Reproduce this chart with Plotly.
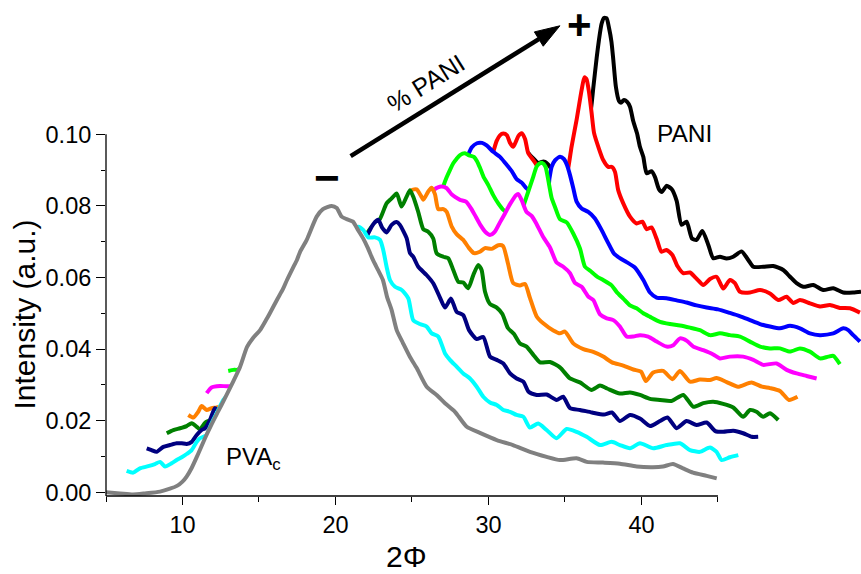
import plotly.graph_objects as go

# XRD patterns, 2-theta (deg) vs intensity (a.u.), stacked as a waterfall.
# Order: PVAc (front) -> increasing PANI content -> pure PANI (back).
gray_x = [5.0, 5.92, 6.76, 7.55, 8.53, 9.18, 9.64, 10.0, 10.27, 10.6, 11.0, 11.47, 11.9, 12.27, 12.8, 13.32, 13.76, 14.22, 14.61, 15.07, 15.46, 15.72, 16.18, 16.57, 16.83, 17.22, 17.48, 17.68, 18.12, 18.77, 19.18, 19.75, 20.08, 20.40, 20.73, 21.14, 21.47, 21.80, 22.12, 22.45, 22.78, 23.10, 23.37, 23.67, 24.00, 24.41, 24.87, 25.31, 25.96, 26.61, 27.16, 27.81, 28.58, 29.44, 30.54, 31.60, 32.71, 33.80, 34.67, 35.76, 36.42, 37.48, 38.59, 39.69, 40.75, 41.41, 42.06, 42.71, 43.37, 44.26, 44.92]
gray_y = [0.0, -0.0003, -0.0006, -0.0003, 0.0002, 0.0010, 0.0018, 0.0030, 0.0044, 0.0068, 0.0105, 0.0151, 0.0190, 0.0221, 0.0265, 0.0310, 0.0350, 0.0406, 0.0431, 0.0453, 0.0481, 0.0501, 0.0538, 0.0568, 0.0593, 0.0627, 0.0649, 0.0671, 0.0705, 0.0770, 0.0791, 0.0800, 0.0794, 0.0770, 0.0763, 0.0756, 0.0733, 0.0710, 0.0682, 0.0649, 0.0621, 0.0593, 0.0546, 0.0509, 0.0453, 0.0417, 0.0378, 0.0347, 0.0295, 0.0272, 0.0249, 0.0225, 0.0183, 0.0166, 0.0146, 0.0132, 0.0113, 0.0099, 0.0090, 0.0095, 0.0085, 0.0083, 0.0080, 0.0072, 0.0070, 0.0072, 0.0079, 0.0067, 0.0055, 0.0046, 0.0039]

cyan_x = [6.35, 6.78, 7.22, 7.76, 8.20, 8.53, 8.86, 9.29, 9.62, 9.95, 10.27, 10.60, 10.93, 11.14, 11.58, 11.80, 12.01, 12.34, 12.67, 13.10, 13.24, 14.5, 16.0, 17.5, 19.0, 20.5, 21.2, 21.49, 21.81, 22.14, 22.58, 22.91, 23.12, 23.34, 23.56, 23.89, 24.33, 24.76, 25.08, 25.52, 25.96, 26.29, 26.72, 27.16, 27.48, 27.92, 28.35, 28.79, 29.23, 29.66, 30.10, 30.54, 30.97, 31.41, 31.84, 32.28, 32.71, 33.25, 33.80, 34.45, 35.11, 35.76, 36.42, 37.29, 38.05, 38.59, 39.25, 39.90, 40.77, 41.64, 42.52, 43.17, 43.82, 44.48, 44.91, 45.24, 45.78, 46.33]
cyan_y = [0.0060, 0.0055, 0.0067, 0.0073, 0.0079, 0.0085, 0.0072, 0.0081, 0.0090, 0.0098, 0.0107, 0.0118, 0.0141, 0.0151, 0.0160, 0.0183, 0.0202, 0.0230, 0.0258, 0.0277, 0.0284, 0.036, 0.046, 0.056, 0.066, 0.072, 0.0735, 0.0742, 0.0733, 0.0712, 0.0712, 0.0705, 0.0677, 0.0630, 0.0593, 0.0574, 0.0565, 0.0542, 0.0481, 0.0470, 0.0463, 0.0444, 0.0435, 0.0388, 0.0370, 0.0351, 0.0332, 0.0318, 0.0295, 0.0267, 0.0251, 0.0244, 0.0230, 0.0225, 0.0216, 0.0211, 0.0181, 0.0192, 0.0174, 0.0151, 0.0177, 0.0169, 0.0155, 0.0132, 0.0141, 0.0132, 0.0123, 0.0137, 0.0123, 0.0132, 0.0137, 0.0118, 0.0113, 0.0125, 0.0113, 0.0090, 0.0098, 0.0104]

navy_x = [7.66, 7.98, 8.31, 8.75, 9.18, 9.62, 9.95, 10.27, 10.60, 10.93, 11.25, 11.47, 11.80, 12.12, 12.34, 13.0, 14.0, 16.0, 18.0, 20.0, 21.5, 21.9, 22.14, 22.47, 22.80, 23.04, 23.34, 23.67, 24.00, 24.21, 24.65, 24.87, 25.08, 25.41, 25.95, 26.39, 26.83, 27.16, 27.55, 27.92, 28.35, 28.73, 29.23, 29.66, 30.10, 30.54, 30.97, 31.41, 31.84, 32.28, 32.62, 33.15, 33.80, 34.45, 34.88, 35.33, 35.98, 36.76, 37.55, 38.07, 38.59, 39.25, 39.90, 40.56, 41.21, 41.70, 42.30, 42.95, 43.60, 44.26, 44.83, 45.34, 46.00, 46.65, 47.20, 47.63]
navy_y = [0.0123, 0.0118, 0.0113, 0.0127, 0.0132, 0.0137, 0.0137, 0.0135, 0.0141, 0.0160, 0.0174, 0.0179, 0.0202, 0.0235, 0.0230, 0.026, 0.032, 0.043, 0.054, 0.063, 0.068, 0.0700, 0.0723, 0.0749, 0.0761, 0.0740, 0.0726, 0.0747, 0.0755, 0.0747, 0.0710, 0.0668, 0.0658, 0.0630, 0.0607, 0.0584, 0.0544, 0.0516, 0.0541, 0.0504, 0.0495, 0.0453, 0.0428, 0.0434, 0.0379, 0.0370, 0.0360, 0.0332, 0.0318, 0.0309, 0.0281, 0.0272, 0.0273, 0.0258, 0.0267, 0.0235, 0.0230, 0.0223, 0.0217, 0.0223, 0.0199, 0.0216, 0.0206, 0.0185, 0.0199, 0.0209, 0.0179, 0.0199, 0.0188, 0.0195, 0.0171, 0.0169, 0.0172, 0.0165, 0.0155, 0.0155]

dgreen_x = [8.97, 9.40, 9.84, 10.27, 10.60, 10.93, 11.14, 11.47, 11.60, 12.3, 13.0, 13.5, 15.0, 17.0, 19.0, 21.0, 21.7, 22.03, 22.36, 22.90, 23.34, 23.67, 24.00, 24.32, 24.65, 24.87, 25.08, 25.41, 25.74, 26.06, 26.39, 26.61, 27.05, 27.37, 27.70, 28.03, 28.35, 28.68, 29.01, 29.33, 29.55, 29.77, 30.10, 30.54, 30.91, 31.27, 31.67, 32.06, 32.49, 32.93, 33.37, 34.02, 34.67, 35.33, 35.98, 36.73, 37.29, 37.75, 38.59, 39.25, 39.90, 40.56, 41.21, 41.97, 42.73, 43.39, 44.04, 44.69, 45.34, 46.00, 46.65, 47.09, 47.52, 47.96, 48.40, 48.94]
dgreen_y = [0.0165, 0.0174, 0.0179, 0.0185, 0.0193, 0.0183, 0.0176, 0.0194, 0.0198, 0.021, 0.024, 0.027, 0.037, 0.049, 0.058, 0.064, 0.067, 0.0719, 0.0742, 0.0763, 0.0807, 0.0821, 0.0835, 0.0798, 0.0826, 0.0844, 0.0826, 0.0783, 0.0735, 0.0728, 0.0709, 0.0668, 0.0658, 0.0654, 0.0621, 0.0588, 0.0586, 0.0570, 0.0607, 0.0635, 0.0621, 0.0561, 0.0526, 0.0516, 0.0498, 0.0459, 0.0442, 0.0416, 0.0407, 0.0384, 0.0363, 0.0364, 0.0349, 0.0318, 0.0307, 0.0286, 0.0298, 0.0290, 0.0276, 0.0279, 0.0272, 0.0261, 0.0258, 0.0255, 0.0272, 0.0239, 0.0249, 0.0253, 0.0247, 0.0237, 0.0211, 0.0230, 0.0225, 0.0211, 0.0221, 0.0202]

orange_x = [10.38, 10.71, 11.03, 11.25, 11.58, 11.90, 12.24, 12.8, 13.5, 15.0, 17.0, 19.0, 21.0, 22.5, 23.5, 24.3, 24.8, 24.98, 25.30, 25.59, 25.74, 26.06, 26.28, 26.50, 26.72, 27.05, 27.27, 27.60, 27.92, 28.35, 28.73, 29.05, 29.44, 29.77, 30.21, 30.64, 30.95, 31.27, 31.62, 32.06, 32.39, 32.71, 33.15, 33.58, 34.24, 34.67, 35.00, 35.54, 36.20, 36.85, 37.50, 38.07, 38.81, 39.47, 39.97, 40.29, 40.77, 41.42, 42.02, 42.52, 43.17, 43.82, 44.48, 44.91, 45.57, 46.31, 47.19, 47.88, 48.40, 49.05, 49.64, 50.20]
orange_y = [0.0216, 0.0209, 0.0225, 0.0241, 0.0230, 0.0235, 0.0237, 0.0245, 0.028, 0.037, 0.048, 0.057, 0.064, 0.069, 0.073, 0.077, 0.081, 0.0844, 0.0846, 0.0828, 0.0817, 0.0840, 0.0851, 0.0833, 0.0791, 0.0791, 0.0783, 0.0742, 0.0721, 0.0705, 0.0682, 0.0668, 0.0672, 0.0682, 0.0680, 0.0690, 0.0688, 0.0640, 0.0584, 0.0578, 0.0582, 0.0543, 0.0491, 0.0472, 0.0452, 0.0444, 0.0449, 0.0416, 0.0400, 0.0392, 0.0379, 0.0363, 0.0354, 0.0343, 0.0337, 0.0311, 0.0335, 0.0339, 0.0316, 0.0339, 0.0309, 0.0315, 0.0314, 0.0319, 0.0308, 0.0295, 0.0307, 0.0295, 0.0291, 0.0283, 0.0258, 0.0267]

magenta_x = [11.58, 11.90, 12.45, 13.22, 14.0, 16.0, 18.0, 20.0, 22.0, 24.0, 25.5, 26.2, 26.50, 26.90, 27.25, 27.58, 27.81, 28.14, 28.53, 28.86, 29.18, 29.51, 29.80, 30.10, 30.42, 30.75, 31.08, 31.41, 31.80, 31.95, 32.17, 32.49, 32.82, 33.15, 33.58, 34.02, 34.45, 34.89, 35.33, 35.65, 36.09, 36.52, 36.85, 37.29, 37.73, 38.16, 38.59, 39.03, 39.47, 39.90, 40.44, 40.99, 41.64, 42.08, 42.52, 42.97, 43.39, 44.04, 44.69, 45.13, 45.78, 46.65, 47.31, 47.96, 48.83, 49.49, 50.14, 50.79, 51.45]
magenta_y = [0.0277, 0.0293, 0.0297, 0.0297, 0.033, 0.043, 0.052, 0.060, 0.066, 0.073, 0.078, 0.081, 0.0847, 0.0854, 0.0850, 0.0833, 0.0825, 0.0817, 0.0812, 0.0793, 0.0769, 0.0744, 0.0727, 0.0719, 0.0728, 0.0754, 0.0779, 0.0805, 0.0830, 0.0833, 0.0816, 0.0783, 0.0772, 0.0749, 0.0713, 0.0684, 0.0642, 0.0630, 0.0612, 0.0585, 0.0574, 0.0547, 0.0537, 0.0497, 0.0486, 0.0481, 0.0463, 0.0435, 0.0435, 0.0439, 0.0435, 0.0421, 0.0407, 0.0411, 0.0430, 0.0423, 0.0407, 0.0397, 0.0385, 0.0374, 0.0379, 0.0379, 0.0370, 0.0356, 0.0360, 0.0342, 0.0332, 0.0325, 0.0318]

lime_x = [12.99, 13.33, 13.65, 15.0, 17.0, 19.0, 21.0, 23.0, 25.0, 26.5, 26.85, 27.04, 27.26, 27.48, 27.70, 27.91, 28.14, 28.46, 28.73, 29.05, 29.25, 29.44, 29.67, 29.99, 30.31, 30.64, 30.97, 31.27, 31.7, 32.1, 32.35, 32.49, 32.71, 32.93, 33.15, 33.37, 33.50, 33.72, 33.91, 34.13, 34.35, 34.67, 35.11, 35.54, 35.98, 36.31, 36.67, 37.12, 37.50, 38.05, 38.37, 38.81, 39.25, 39.68, 40.12, 40.56, 41.21, 41.86, 42.52, 43.17, 43.82, 44.48, 45.13, 45.78, 46.44, 47.09, 47.75, 48.40, 49.05, 49.71, 50.36, 51.01, 51.67, 52.21, 52.54, 52.97]
lime_y = [0.0339, 0.0342, 0.0343, 0.043, 0.054, 0.063, 0.066, 0.071, 0.077, 0.081, 0.083, 0.0854, 0.0879, 0.0900, 0.0919, 0.0931, 0.0942, 0.0947, 0.0941, 0.0937, 0.0925, 0.0907, 0.0882, 0.0858, 0.0830, 0.0807, 0.0789, 0.0780, 0.077, 0.077, 0.0808, 0.0826, 0.0854, 0.0882, 0.0910, 0.0919, 0.0920, 0.0910, 0.0872, 0.0822, 0.0797, 0.0763, 0.0754, 0.0723, 0.0681, 0.0630, 0.0618, 0.0602, 0.0593, 0.0578, 0.0560, 0.0541, 0.0522, 0.0514, 0.0500, 0.0490, 0.0476, 0.0470, 0.0466, 0.0460, 0.0453, 0.0439, 0.0444, 0.0439, 0.0435, 0.0421, 0.0407, 0.0402, 0.0402, 0.0393, 0.0402, 0.0393, 0.0374, 0.0379, 0.0381, 0.0358]

blue_x = [14.3, 16.0, 18.0, 20.0, 22.0, 24.0, 26.0, 27.5, 28.3, 28.67, 28.90, 29.25, 29.58, 29.88, 30.31, 30.75, 31.11, 31.52, 31.84, 32.17, 32.49, 32.71, 33.3, 33.85, 33.99, 34.13, 34.35, 34.67, 34.93, 35.13, 35.33, 35.54, 35.76, 36.09, 36.52, 36.96, 37.39, 37.83, 38.20, 38.59, 39.03, 39.57, 40.12, 40.56, 40.99, 41.64, 42.30, 42.95, 43.60, 44.26, 45.00, 45.78, 46.50, 47.09, 47.75, 48.40, 49.05, 49.71, 50.36, 51.01, 51.67, 52.54, 53.19, 53.52, 53.84, 54.28]
blue_y = [0.038, 0.046, 0.055, 0.062, 0.068, 0.074, 0.079, 0.084, 0.090, 0.0942, 0.0963, 0.0975, 0.0976, 0.0969, 0.0951, 0.0937, 0.0919, 0.0897, 0.0875, 0.0865, 0.0849, 0.0842, 0.0835, 0.0840, 0.0878, 0.0909, 0.0927, 0.0937, 0.0931, 0.0914, 0.0886, 0.0850, 0.0812, 0.0793, 0.0783, 0.0765, 0.0733, 0.0696, 0.0667, 0.0654, 0.0643, 0.0628, 0.0593, 0.0558, 0.0544, 0.0542, 0.0536, 0.0530, 0.0522, 0.0516, 0.0511, 0.0501, 0.0491, 0.0481, 0.0470, 0.0463, 0.0458, 0.0465, 0.0458, 0.0444, 0.0439, 0.0444, 0.0458, 0.0453, 0.0439, 0.0421]

red_x = [15.6, 18.0, 20.0, 22.0, 24.0, 26.0, 28.0, 29.5, 30.1, 30.31, 30.53, 30.75, 30.97, 31.21, 31.41, 31.62, 31.80, 31.95, 32.17, 32.39, 32.60, 32.93, 33.15, 33.6, 34.06, 34.6, 35.0, 35.21, 35.43, 35.76, 36.09, 36.27, 36.41, 36.57, 36.74, 36.90, 37.18, 37.50, 37.83, 38.07, 38.27, 38.48, 38.81, 39.25, 39.68, 40.06, 40.34, 40.66, 40.99, 41.31, 41.64, 42.02, 42.35, 42.73, 43.17, 43.62, 44.04, 44.48, 44.91, 45.35, 45.78, 46.11, 46.44, 47.09, 47.75, 48.40, 48.94, 49.48, 49.92, 50.36, 51.01, 51.67, 52.32, 52.97, 53.63, 54.28]
red_y = [0.042, 0.053, 0.061, 0.067, 0.073, 0.078, 0.085, 0.090, 0.093, 0.0951, 0.0981, 0.0997, 0.1002, 0.0997, 0.0976, 0.0965, 0.0980, 0.0995, 0.1003, 0.0987, 0.0947, 0.0928, 0.0914, 0.088, 0.0868, 0.086, 0.087, 0.0905, 0.0965, 0.1040, 0.1124, 0.1159, 0.1154, 0.1118, 0.1060, 0.1004, 0.0965, 0.0928, 0.0909, 0.0909, 0.0895, 0.0844, 0.0807, 0.0770, 0.0751, 0.0756, 0.0735, 0.0740, 0.0708, 0.0672, 0.0677, 0.0663, 0.0632, 0.0612, 0.0614, 0.0596, 0.0579, 0.0596, 0.0602, 0.0569, 0.0593, 0.0584, 0.0560, 0.0558, 0.0565, 0.0555, 0.0537, 0.0546, 0.0529, 0.0537, 0.0528, 0.0519, 0.0523, 0.0515, 0.0514, 0.0502]

black_x = [17.0, 19.0, 21.0, 23.0, 25.0, 27.0, 29.0, 30.3, 31.0, 31.6, 32.3, 32.55, 32.71, 33.04, 33.26, 33.47, 33.69, 34.02, 34.21, 34.5, 35.0, 35.5, 36.0, 36.3, 36.70, 36.85, 37.07, 37.22, 37.39, 37.55, 37.72, 37.88, 38.04, 38.16, 38.33, 38.53, 38.66, 38.86, 39.05, 39.25, 39.46, 39.71, 39.90, 40.12, 40.34, 40.66, 40.88, 41.14, 41.34, 41.64, 41.97, 42.30, 42.62, 42.95, 43.30, 43.60, 43.98, 44.37, 44.69, 45.13, 45.56, 46.00, 46.54, 46.98, 47.31, 47.96, 48.61, 49.27, 49.71, 50.14, 50.58, 51.23, 51.88, 52.54, 53.19, 53.84, 54.35]
black_y = [0.048, 0.057, 0.064, 0.069, 0.075, 0.080, 0.087, 0.091, 0.092, 0.092, 0.093, 0.0950, 0.0942, 0.0928, 0.0919, 0.0923, 0.0923, 0.0909, 0.0893, 0.088, 0.087, 0.089, 0.094, 0.098, 0.1070, 0.1129, 0.1213, 0.1263, 0.1308, 0.1325, 0.1324, 0.1297, 0.1258, 0.1208, 0.1132, 0.1093, 0.1088, 0.1096, 0.1091, 0.1077, 0.1037, 0.1003, 0.0965, 0.0937, 0.0891, 0.0897, 0.0881, 0.0847, 0.0839, 0.0856, 0.0847, 0.0814, 0.0747, 0.0756, 0.0709, 0.0705, 0.0730, 0.0691, 0.0654, 0.0658, 0.0653, 0.0658, 0.0673, 0.0649, 0.0630, 0.0630, 0.0632, 0.0621, 0.0602, 0.0584, 0.0574, 0.0579, 0.0565, 0.0570, 0.0558, 0.0558, 0.0560]

x_ticks = [10, 20, 30, 40]
x_minor = [5, 15, 25, 35, 45]
y_ticks = [0.00, 0.02, 0.04, 0.06, 0.08, 0.10]
y_minor = [0.01, 0.03, 0.05, 0.07, 0.09]

X_RANGE = [5.0, 54.35]
Y_RANGE = [-0.00103, 0.13751]
FONT = "Liberation Sans, Arial, sans-serif"

# back (pure PANI) to front (PVAc); each curve's white fill hides what lies beneath it
curves = [
    (black_x, black_y, "#000000"),
    (red_x, red_y, "#ff0000"),
    (blue_x, blue_y, "#0000ff"),
    (lime_x, lime_y, "#00ff00"),
    (magenta_x, magenta_y, "#ff00ff"),
    (orange_x, orange_y, "#ff8000"),
    (dgreen_x, dgreen_y, "#008000"),
    (navy_x, navy_y, "#000080"),
    (cyan_x, cyan_y, "#00ffff"),
    (gray_x, gray_y, "#808080"),
]

fig = go.Figure()
for xs, ys, col in curves:
    fig.add_trace(go.Scatter(
        x=xs, y=ys, mode="lines",
        line=dict(color=col, width=4, shape="spline", smoothing=0.6),
        fill="tozeroy", fillcolor="#ffffff",
        showlegend=False, hoverinfo="skip",
    ))

tick_common = dict(ticks="outside", tickcolor="black", tickwidth=1.3,
                   showgrid=False, zeroline=False, showline=False,
                   tickfont=dict(family=FONT, size=23.5, color="black"))

fig.update_xaxes(range=X_RANGE, tickmode="array", tickvals=x_ticks,
                 ticktext=[str(v) for v in x_ticks], ticklen=8,
                 minor=dict(tickvals=x_minor, ticklen=4.5, tickwidth=1.3,
                            tickcolor="black", ticks="outside"),
                 **tick_common)
fig.update_yaxes(range=Y_RANGE, tickmode="array", tickvals=y_ticks,
                 ticktext=[f"{v:.2f}" for v in y_ticks], ticklen=9,
                 minor=dict(tickvals=y_minor, ticklen=4.5, tickwidth=1.3,
                            tickcolor="black", ticks="outside"),
                 **tick_common)

# axis lines that stop at 45 deg and 0.10
fig.add_shape(type="line", xref="x", yref="paper", x0=5, x1=45, y0=0, y1=0,
              line=dict(color="black", width=1.3))
fig.add_shape(type="line", xref="paper", yref="y", x0=0, x1=0,
              y0=Y_RANGE[0], y1=0.10, line=dict(color="black", width=1.3))

# arrow pointing toward higher PANI content: shaft and filled head
arrow_tail = (20.99, 0.0939)
arrow_base = (33.29, 0.1266)
arrow_tip = (34.67, 0.1303)
head_a = (33.58, 0.1246)
head_b = (33.00, 0.1286)
fig.add_shape(type="line", xref="x", yref="y",
              x0=arrow_tail[0], y0=arrow_tail[1],
              x1=arrow_base[0], y1=arrow_base[1],
              line=dict(color="black", width=4.5))
fig.add_shape(type="path", xref="x", yref="y",
              path=(f"M {arrow_tip[0]},{arrow_tip[1]} L {head_a[0]},{head_a[1]} "
                    f"L {head_b[0]},{head_b[1]} Z"),
              fillcolor="black", line=dict(color="black", width=1))

def label(text, x, y, size, angle=0, bold=False, xanchor="center"):
    fig.add_annotation(text=f"<b>{text}</b>" if bold else text,
                       x=x, y=y, xref="paper", yref="paper",
                       xanchor=xanchor, yanchor="middle",
                       textangle=angle, showarrow=False,
                       font=dict(family=FONT, size=size, color="black"))

label("Intensity (a.u.)", -0.1078, 0.365, 30, angle=-90)
label("2\u03a6", 0.3974, -0.1222, 30)
label("PANI", 0.766, 0.7315, 24.5)
label("PVA<sub>c</sub>", 0.1563, 0.0746, 24, xanchor="left")
label("% PANI", 0.4238, 0.8327, 25, angle=-32)
label("+", 0.6278, 0.950, 42, bold=True)
label("\u2212", 0.2923, 0.6425, 44, bold=True)

fig.update_layout(width=861, height=574,
                  margin=dict(l=106, r=0, t=0, b=78),
                  plot_bgcolor="white", paper_bgcolor="white",
                  font=dict(family=FONT, color="black"))

fig.write_html("out.html")
